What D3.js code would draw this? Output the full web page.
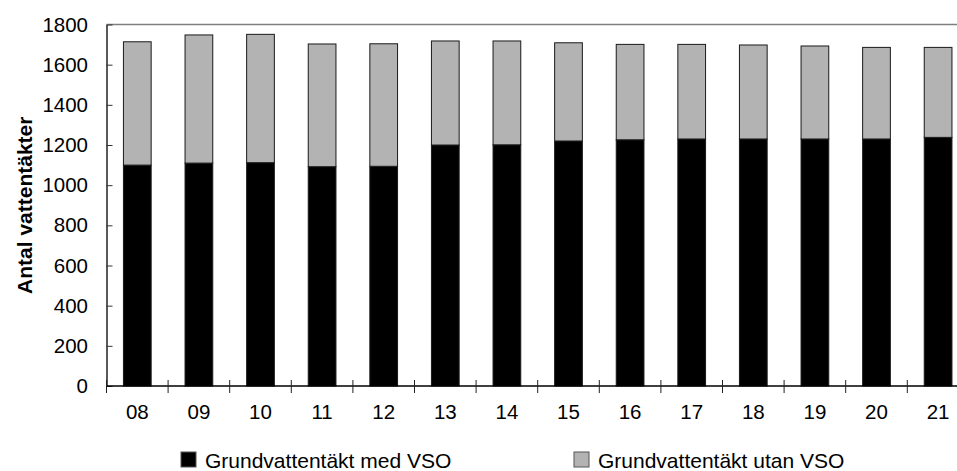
<!DOCTYPE html>
<html>
<head>
<meta charset="utf-8">
<script src="https://cdn.jsdelivr.net/npm/d3@7"></script>
<style>
  html, body { margin: 0; padding: 0; background: #fff; }
  svg { display: block; font-family: "Liberation Sans", Arial, sans-serif; }
</style>
</head>
<body>
<svg id="chart" width="957" height="471"></svg>
<script>
const categories = ["08","09","10","11","12","13","14","15","16","17","18","19","20","21"];
const medVSO   = [1100,1110,1112,1092,1094,1200,1201,1220,1226,1230,1230,1230,1230,1238];
const totalt   = [1714,1748,1751,1703,1704,1718,1718,1709,1701,1701,1698,1693,1686,1686];
const utanVSO  = totalt.map((t, i) => t - medVSO[i]);
const yTicks   = [0,200,400,600,800,1000,1200,1400,1600,1800];
const seriesNames = ["Grundvattentäkt med VSO", "Grundvattentäkt utan VSO"];
const seriesColors = ["#000000", "#b3b3b3"];

const svg = d3.select("#chart");
const mLeft = 106.5, mTop = 24.5, mBottom = 386, step = 61.6;
const mRight = mLeft + step * categories.length;

const x = d3.scaleBand().domain(categories).range([mLeft, mRight]).paddingInner(0.55).paddingOuter(0.275);
const y = d3.scaleLinear().domain([0, 1800]).range([mBottom, mTop]);

const rows = categories.map((c, i) => ({cat: c, med: medVSO[i], utan: utanVSO[i]}));
const stack = d3.stack().keys(["med", "utan"])(rows);

// top border of plot area
svg.append("line").attr("x1", mLeft).attr("x2", mRight).attr("y1", mTop).attr("y2", mTop)
  .attr("stroke", "#7f7f7f").attr("stroke-width", 1.5);

// bars
stack.forEach((layer, k) => {
  svg.append("g").selectAll("rect").data(layer).join("rect")
    .attr("x", d => x(d.data.cat))
    .attr("width", x.bandwidth())
    .attr("y", d => y(d[1]))
    .attr("height", d => y(d[0]) - y(d[1]))
    .attr("fill", seriesColors[k])
    .attr("stroke", "#1a1a1a").attr("stroke-width", 1);
});

// y axis
const yAxis = d3.axisLeft(y).tickValues(yTicks).tickFormat(d3.format("d"))
  .tickSizeInner(-6).tickSizeOuter(0).tickPadding(18.5);
const gy = svg.append("g").attr("transform", `translate(${mLeft},0)`).call(yAxis);
gy.select(".domain").attr("stroke", "#222").attr("stroke-width", 1.5);
gy.selectAll(".tick line").attr("stroke", "#333");
gy.selectAll(".tick text").attr("font-size", 20.5).attr("fill", "#000").attr("font-family", "Liberation Sans, Arial, sans-serif");

// x axis line
svg.append("line").attr("x1", mLeft).attr("x2", mRight).attr("y1", mBottom).attr("y2", mBottom)
  .attr("stroke", "#000").attr("stroke-width", 1.5);
// x ticks at band boundaries
const bounds = categories.map(c => x(c) - x.step() * x.paddingOuter());
svg.append("g").selectAll("line").data(bounds).join("line")
  .attr("x1", d => d).attr("x2", d => d).attr("y1", mBottom - 6).attr("y2", mBottom + 7)
  .attr("stroke", "#222").attr("stroke-width", 1);
// x labels
svg.append("g").selectAll("text").data(categories).join("text")
  .attr("x", d => x(d) + x.bandwidth() / 2).attr("y", 419)
  .attr("text-anchor", "middle").attr("font-size", 20.5).attr("fill", "#000")
  .text(d => d);

// y title
svg.append("text")
  .attr("transform", `translate(32,${(mTop + mBottom) / 2}) rotate(-90)`)
  .attr("text-anchor", "middle").attr("font-size", 21).attr("font-weight", "bold")
  .text("Antal vattentäkter");

// legend
const legendX = [181, 574];
seriesNames.forEach((name, k) => {
  const g = svg.append("g").attr("transform", `translate(${legendX[k]},452)`);
  g.append("rect").attr("x", 0).attr("y", 0).attr("width", 15).attr("height", 15)
    .attr("fill", seriesColors[k]).attr("stroke", "#555").attr("stroke-width", 1);
  g.append("text").attr("x", 24).attr("y", 16).attr("font-size", 21).attr("fill", "#000").text(name);
});
</script>
</body>
</html>
